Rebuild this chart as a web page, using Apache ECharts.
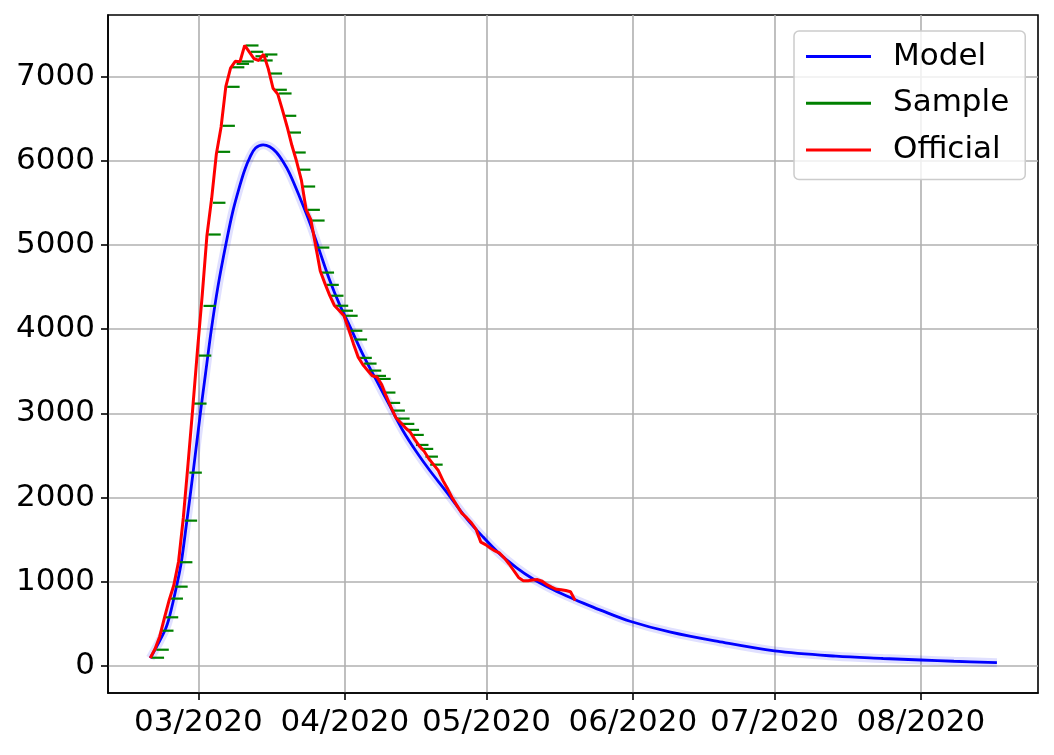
<!DOCTYPE html>
<html>
<head>
<meta charset="utf-8">
<script src="https://cdn.jsdelivr.net/npm/echarts@6/dist/echarts.min.js"></script>
<style>html,body{margin:0;padding:0;background:#fff}#c{width:1054px;height:755px}</style>
</head>
<body>
<div id="c"></div>
<script>
// x values are days relative to 2020-03-01
const tickDays = [0, 31, 61, 92, 122, 153];
const tickLabels = ['03/2020', '04/2020', '05/2020', '06/2020', '07/2020', '08/2020'];
const yTicks = [0, 1000, 2000, 3000, 4000, 5000, 6000, 7000];

// Official: daily values starting 2020-02-20 (day offset below)
const officialStartDay = -10.2;
const officialValues = [
  94, 200, 350, 570, 780, 960, 1240, 1760, 2400, 3060,
  3750, 4400, 5110, 5550, 6080, 6400, 6880, 7100, 7180, 7175,
  7370, 7290, 7210, 7190, 7265, 7090, 6860, 6790, 6600, 6400,
  6180, 5990, 5770, 5420, 5300, 5000, 4690, 4540, 4400, 4280,
  4220, 4160, 4000, 3830, 3670, 3580, 3510, 3445, 3430, 3340,
  3200, 3070, 2950, 2890, 2830, 2780, 2690, 2610, 2550, 2460,
  2390, 2320, 2200, 2100, 1990, 1900, 1810, 1760, 1700, 1620,
  1470, 1440, 1400, 1365, 1338, 1280, 1210, 1130, 1050, 1012,
  1012, 1020, 1025, 1005, 965, 935, 910, 905, 895, 880, 775
];

// Sample: daily values
const sampleStartDay = -8.6;
const sampleValues = [
  97, 192, 418, 577, 799, 941, 1231, 1725, 2295, 3115,
  3685, 4275, 5123, 5500, 6105, 6414, 6877, 7109, 7150, 7178,
  7368, 7293, 7240, 7190, 7261, 7035, 6842, 6798, 6533, 6334,
  6097, 5893, 5693, 5416, 5289, 4968, 4671, 4525, 4396, 4277,
  4218, 4158, 3980, 3876, 3658, 3590, 3507, 3444, 3408, 3246,
  3123, 3032, 2937, 2874, 2803, 2743, 2624, 2577, 2485, 2390
];

// Model curve, read at selected days
const modelDays = [
  -10.2, -7.1, -6.1, -4.5, -3.6, -2.5, -1.8, -1.1, 0.5, 1.5,
  2.75, 4.15, 5.9, 7.3, 8.75, 9.8, 10.9, 12.1, 13.7, 15.1,
  16.5, 17.9, 19.3, 21.5, 23.6, 25.7, 27.8, 29.9, 32.1, 34.9,
  37.7, 40.5, 43.35, 46.2, 49.0, 52.2, 56.8, 60.3, 63.8, 67.4,
  70.8, 74.4, 78.0, 81.5, 85.0, 91.4, 100, 110, 122, 135,
  145, 153, 160, 169.1
];
const modelValues = [
  90, 420, 590, 980, 1240, 1700, 2000, 2310, 3040, 3470,
  4000, 4510, 5030, 5400, 5700, 5890, 6040, 6150, 6188, 6165,
  6100, 5990, 5850, 5560, 5260, 4920, 4580, 4290, 4030, 3690,
  3390, 3090, 2790, 2540, 2320, 2090, 1750, 1530, 1330, 1165,
  1035, 925, 830, 745, 665, 530, 400, 290, 178, 115,
  88, 70, 55, 38
];

const official = officialValues.map((v, i) => [officialStartDay + i, v]);
const sample = sampleValues.map((v, i) => [sampleStartDay + i, v]);
const model = modelDays.map((d, i) => [d, modelValues[i]]);

const FONT = 'DejaVu Sans';
const chart = echarts.init(document.getElementById('c'), null, {renderer: 'canvas'});
chart.setOption({
  animation: false,
  backgroundColor: '#fff',
  grid: {left: 108, right: 16, top: 15, bottom: 62, show: true, borderColor: '#000', borderWidth: 1.6, backgroundColor: 'transparent'},
  xAxis: {
    type: 'value', min: -19.15, max: 177.8,
    axisLine: {show: true, onZero: false, lineStyle: {color: '#000', width: 1.6}},
    axisTick: {show: true, customValues: tickDays, length: 7, lineStyle: {color: '#000', width: 1.6}},
    axisLabel: {customValues: tickDays, margin: 14, color: '#000', fontSize: 31, fontFamily: FONT,
      formatter: v => { const i = tickDays.indexOf(Math.round(v)); return i >= 0 ? tickLabels[i] : ''; }},
    splitLine: {show: true, lineStyle: {color: '#b0b0b0', width: 1.6}}
  },
  yAxis: {
    type: 'value', min: -322, max: 7730,
    axisLine: {show: true, onZero: false, lineStyle: {color: '#000', width: 1.6}},
    axisTick: {show: true, customValues: yTicks, length: 7, lineStyle: {color: '#000', width: 1.6}},
    axisLabel: {customValues: yTicks, margin: 13, color: '#000', fontSize: 31, fontFamily: FONT,
      formatter: v => String(Math.round(v))},
    splitLine: {show: true, lineStyle: {color: '#b0b0b0', width: 1.6}}
  },
  legend: {
    left: 794, top: 31, orient: 'vertical',
    padding: [10, 16, 14, 12],
    itemWidth: 65, itemHeight: 3, itemGap: 15.7,
    backgroundColor: 'rgba(255,255,255,0.8)', borderColor: '#cccccc', borderWidth: 1.5, borderRadius: 5,
    textStyle: {color: '#000', fontSize: 31, fontFamily: FONT, padding: [0, 0, 0, 17]},
    data: [{name: 'Model', icon: 'rect'}, {name: 'Sample', icon: 'rect'}, {name: 'Official', icon: 'rect'}]
  },
  series: [
    {name: 'band', type: 'line', data: model, smooth: 0.35, showSymbol: false, silent: true,
      lineStyle: {color: 'rgba(0,0,255,0.12)', width: 9}, z: 2},
    {name: 'Model', type: 'line', data: model, smooth: 0.35, showSymbol: false,
      itemStyle: {color: '#0000ff'}, lineStyle: {color: '#0000ff', width: 2.8}, z: 3},
    {name: 'Sample', type: 'scatter', data: sample, symbol: 'rect', symbolSize: [12.5, 2.2],
      itemStyle: {color: '#008000', opacity: 1}, z: 4},
    {name: 'Official', type: 'line', data: official, showSymbol: false,
      itemStyle: {color: '#ff0000'}, lineStyle: {color: '#ff0000', width: 3}, z: 5}
  ]
});
</script>
</body>
</html>
